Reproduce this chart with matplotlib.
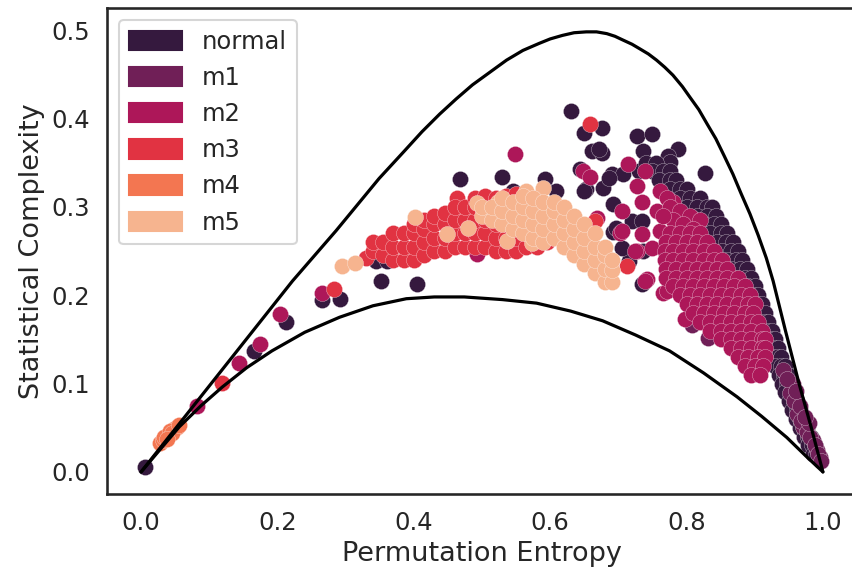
import matplotlib
matplotlib.use("Agg")
import matplotlib.pyplot as plt
from matplotlib.patches import Patch
import seaborn as sns

sns.set_theme(context="talk", style="white")

classes = ["normal", "m1", "m2", "m3", "m4", "m5"]

# bounding curves of the complexity-entropy plane
upper_H = [0, 0.11, 0.222, 0.286, 0.349, 0.386, 0.412, 0.438, 0.462, 0.486, 0.511, 0.536, 0.56,
           0.584, 0.60, 0.618, 0.635, 0.653, 0.668, 0.683, 0.695, 0.706, 0.72, 0.731, 0.744, 0.756,
           0.768, 0.780, 0.794, 0.805, 0.818, 0.83, 0.843, 0.855, 0.868, 0.88, 0.893, 0.905, 0.917,
           0.927, 0.945, 0.965, 0.983, 1.0]
upper_C = [0, 0.107, 0.216, 0.273, 0.332, 0.363, 0.385, 0.405, 0.422, 0.438, 0.452, 0.466, 0.477,
           0.485, 0.490, 0.494, 0.497, 0.498, 0.498, 0.496, 0.493, 0.489, 0.484, 0.479, 0.473, 0.466,
           0.458, 0.449, 0.436, 0.424, 0.410, 0.394, 0.377, 0.358, 0.337, 0.315, 0.292, 0.268, 0.242,
           0.216, 0.16, 0.10, 0.05, 0.0]
lower_H = [0, 0.056, 0.088, 0.119, 0.155, 0.192, 0.24, 0.291, 0.34, 0.389, 0.43, 0.474, 0.53,
           0.580, 0.63, 0.677, 0.725, 0.775, 0.825, 0.874, 0.91, 0.947, 0.975, 1.0]
lower_C = [0, 0.051, 0.075, 0.096, 0.118, 0.137, 0.158, 0.175, 0.188, 0.196, 0.198, 0.198, 0.195,
           0.191, 0.182, 0.171, 0.155, 0.137, 0.112, 0.085, 0.063, 0.039, 0.018, 0.0]

# (permutation entropy, statistical complexity) per class
normal_pts = [
    (0.005, 0.005), (0.166, 0.137), (0.213, 0.170), (0.266, 0.194), (0.291, 0.196), (0.352, 0.216),
    (0.405, 0.213), (0.345, 0.239), (0.360, 0.239), (0.467, 0.331), (0.530, 0.334), (0.592, 0.332),
    (0.545, 0.318), (0.609, 0.318), (0.631, 0.408), (0.649, 0.384), (0.676, 0.389), (0.661, 0.363),
    (0.676, 0.361), (0.643, 0.343), (0.652, 0.320), (0.677, 0.321), (0.692, 0.303), (0.692, 0.272),
    (0.720, 0.284), (0.715, 0.239), (0.734, 0.284), (0.734, 0.213), (0.809, 0.186), (0.706, 0.253),
    (0.736, 0.250), (0.728, 0.380), (0.750, 0.382), (0.736, 0.363), (0.788, 0.365), (0.773, 0.357),
    (0.827, 0.338), (0.672, 0.365), (0.690, 0.337), (0.707, 0.337), (0.730, 0.340), (0.775, 0.351),
    (0.753, 0.346), (0.686, 0.333), (0.696, 0.276), (0.650, 0.318),
    (0.74, 0.35), (0.755, 0.35), (0.75, 0.34), (0.765, 0.34), (0.775, 0.34),
    (0.76, 0.33), (0.775, 0.33), (0.785, 0.33), (0.775, 0.32), (0.79, 0.32), (0.80, 0.32),
    (0.79, 0.31), (0.805, 0.31), (0.82, 0.31), (0.80, 0.30), (0.815, 0.30), (0.83, 0.30), (0.838, 0.30),
    (0.815, 0.29), (0.83, 0.29), (0.843, 0.29), (0.825, 0.28), (0.84, 0.28), (0.85, 0.28),
    (0.835, 0.27), (0.85, 0.27), (0.86, 0.27), (0.845, 0.26), (0.858, 0.26), (0.868, 0.26),
    (0.852, 0.25), (0.865, 0.25), (0.875, 0.25), (0.86, 0.24), (0.872, 0.24), (0.882, 0.24),
    (0.865, 0.23), (0.878, 0.23), (0.888, 0.23), (0.872, 0.22), (0.885, 0.22), (0.894, 0.22),
    (0.878, 0.21), (0.89, 0.21), (0.90, 0.21), (0.885, 0.20), (0.897, 0.20), (0.905, 0.20),
    (0.892, 0.19), (0.903, 0.19), (0.91, 0.19), (0.898, 0.18), (0.908, 0.18), (0.915, 0.18),
    (0.905, 0.17), (0.913, 0.17), (0.92, 0.17), (0.91, 0.16), (0.918, 0.16), (0.925, 0.16),
    (0.915, 0.15), (0.923, 0.15), (0.929, 0.15), (0.92, 0.14), (0.928, 0.14), (0.934, 0.14),
    (0.925, 0.13), (0.933, 0.13), (0.939, 0.13), (0.93, 0.12), (0.938, 0.12), (0.944, 0.12),
    (0.935, 0.11), (0.943, 0.11), (0.949, 0.11), (0.94, 0.10), (0.948, 0.10), (0.953, 0.10),
    (0.945, 0.09), (0.953, 0.09), (0.958, 0.09), (0.95, 0.08), (0.958, 0.08), (0.962, 0.08),
    (0.955, 0.07), (0.962, 0.07), (0.966, 0.07), (0.96, 0.06), (0.967, 0.06), (0.971, 0.06),
    (0.966, 0.05), (0.972, 0.05), (0.976, 0.05), (0.972, 0.04), (0.978, 0.04), (0.982, 0.04),
    (0.978, 0.03), (0.984, 0.03), (0.988, 0.03), (0.985, 0.02), (0.99, 0.02),
]
m1_pts = [
    (0.808, 0.166), (0.831, 0.152), (0.941, 0.115), (0.956, 0.100), (0.952, 0.089), (0.962, 0.066),
    (0.971, 0.051), (0.985, 0.036), (0.996, 0.017), (0.991, 0.025), (0.947, 0.105), (0.958, 0.080),
    (0.966, 0.075), (0.968, 0.058), (0.976, 0.045), (0.981, 0.040), (0.988, 0.030), (0.993, 0.020),
    (0.997, 0.012), (0.979, 0.055), (0.960, 0.092), (0.973, 0.062),
]
m2_pts = [
    (0.082, 0.075), (0.144, 0.123), (0.175, 0.145), (0.203, 0.179), (0.266, 0.203), (0.548, 0.360),
    (0.493, 0.247), (0.668, 0.287), (0.648, 0.340), (0.658, 0.334), (0.714, 0.348), (0.739, 0.340),
    (0.727, 0.323), (0.761, 0.318), (0.780, 0.306), (0.706, 0.295), (0.756, 0.295), (0.734, 0.306),
    (0.702, 0.270), (0.734, 0.269), (0.761, 0.273), (0.808, 0.287), (0.794, 0.276), (0.727, 0.250),
    (0.750, 0.253), (0.742, 0.218), (0.765, 0.202), (0.797, 0.173), (0.771, 0.310), (0.786, 0.287),
    (0.775, 0.300), (0.79, 0.295), (0.805, 0.29), (0.82, 0.285), (0.78, 0.285), (0.795, 0.28),
    (0.81, 0.275), (0.765, 0.29), (0.705, 0.273), (0.724, 0.25), (0.739, 0.216), (0.771, 0.205),
    (0.775, 0.27), (0.79, 0.27), (0.805, 0.27), (0.82, 0.27),
    (0.77, 0.26), (0.785, 0.26), (0.80, 0.26), (0.815, 0.26), (0.83, 0.26),
    (0.768, 0.25), (0.78, 0.25), (0.795, 0.25), (0.81, 0.25), (0.825, 0.25), (0.84, 0.25),
    (0.768, 0.24), (0.78, 0.24), (0.795, 0.24), (0.81, 0.24), (0.825, 0.24), (0.84, 0.24), (0.852, 0.24),
    (0.77, 0.23), (0.785, 0.23), (0.80, 0.23), (0.815, 0.23), (0.83, 0.23), (0.845, 0.23), (0.86, 0.23),
    (0.77, 0.22), (0.785, 0.22), (0.80, 0.22), (0.815, 0.22), (0.83, 0.22), (0.845, 0.22), (0.86, 0.22),
    (0.875, 0.22), (0.78, 0.21), (0.795, 0.21), (0.81, 0.21), (0.825, 0.21), (0.84, 0.21), (0.855, 0.21),
    (0.87, 0.21), (0.885, 0.21), (0.79, 0.20), (0.805, 0.20), (0.82, 0.20), (0.835, 0.20), (0.85, 0.20),
    (0.865, 0.20), (0.88, 0.20), (0.893, 0.20), (0.80, 0.19), (0.815, 0.19), (0.83, 0.19), (0.845, 0.19),
    (0.86, 0.19), (0.875, 0.19), (0.89, 0.19), (0.90, 0.19), (0.81, 0.18), (0.825, 0.18), (0.84, 0.18),
    (0.855, 0.18), (0.87, 0.18), (0.885, 0.18), (0.898, 0.18), (0.82, 0.17), (0.835, 0.17), (0.85, 0.17),
    (0.865, 0.17), (0.88, 0.17), (0.895, 0.17), (0.905, 0.17), (0.835, 0.16), (0.85, 0.16), (0.865, 0.16),
    (0.88, 0.16), (0.895, 0.16), (0.91, 0.16), (0.85, 0.15), (0.865, 0.15), (0.88, 0.15), (0.895, 0.15),
    (0.91, 0.15), (0.915, 0.15), (0.865, 0.14), (0.88, 0.14), (0.895, 0.14), (0.91, 0.14), (0.915, 0.14),
    (0.875, 0.13), (0.89, 0.13), (0.905, 0.13), (0.915, 0.13), (0.885, 0.12), (0.90, 0.12), (0.912, 0.12),
    (0.895, 0.11), (0.908, 0.11),
]
m3_pts = [
    (0.119, 0.101), (0.283, 0.207), (0.658, 0.394), (0.665, 0.284), (0.712, 0.233), (0.463, 0.310),
    (0.330, 0.242),
    (0.34, 0.25), (0.34, 0.26), (0.355, 0.245), (0.355, 0.26), (0.37, 0.24), (0.37, 0.255), (0.37, 0.27),
    (0.385, 0.24), (0.385, 0.255), (0.385, 0.27), (0.40, 0.24), (0.40, 0.255), (0.40, 0.27), (0.40, 0.28),
    (0.415, 0.245), (0.415, 0.26), (0.415, 0.275), (0.415, 0.285), (0.43, 0.25), (0.43, 0.265),
    (0.43, 0.28), (0.43, 0.29), (0.445, 0.25), (0.445, 0.265), (0.445, 0.28), (0.445, 0.293),
    (0.46, 0.255), (0.46, 0.27), (0.46, 0.285), (0.46, 0.30), (0.475, 0.255), (0.475, 0.27),
    (0.475, 0.285), (0.475, 0.30), (0.49, 0.255), (0.49, 0.27), (0.49, 0.285), (0.49, 0.30),
    (0.49, 0.31), (0.505, 0.255), (0.505, 0.27), (0.505, 0.285), (0.505, 0.30), (0.505, 0.312),
    (0.52, 0.25), (0.52, 0.265), (0.52, 0.28), (0.52, 0.295), (0.52, 0.31), (0.535, 0.25),
    (0.535, 0.265), (0.535, 0.28), (0.535, 0.295), (0.535, 0.312), (0.55, 0.25), (0.55, 0.265),
    (0.55, 0.28), (0.55, 0.30), (0.55, 0.315), (0.565, 0.255), (0.565, 0.27), (0.565, 0.285),
    (0.565, 0.30), (0.565, 0.315), (0.58, 0.255), (0.58, 0.27), (0.58, 0.29), (0.58, 0.31),
    (0.595, 0.26), (0.595, 0.275),
]
m4_pts = [
    (0.028, 0.033), (0.032, 0.036), (0.036, 0.039), (0.040, 0.042), (0.044, 0.045), (0.048, 0.048),
    (0.052, 0.051), (0.034, 0.040), (0.042, 0.046), (0.046, 0.044), (0.038, 0.037), (0.055, 0.053),
]
m5_pts = [
    (0.295, 0.233), (0.313, 0.236), (0.401, 0.289), (0.448, 0.269), (0.479, 0.276), (0.493, 0.304),
    (0.523, 0.306), (0.521, 0.287), (0.537, 0.261), (0.573, 0.259), (0.565, 0.318), (0.589, 0.321),
    (0.50, 0.29), (0.50, 0.30), (0.515, 0.285), (0.515, 0.30), (0.53, 0.28), (0.53, 0.295), (0.53, 0.31),
    (0.545, 0.275), (0.545, 0.29), (0.545, 0.305), (0.56, 0.27), (0.56, 0.285), (0.56, 0.30),
    (0.56, 0.312), (0.575, 0.265), (0.575, 0.28), (0.575, 0.295), (0.575, 0.31), (0.59, 0.26),
    (0.59, 0.275), (0.59, 0.29), (0.59, 0.305), (0.605, 0.265), (0.605, 0.28), (0.605, 0.295),
    (0.605, 0.305), (0.62, 0.255), (0.62, 0.27), (0.62, 0.285), (0.62, 0.30), (0.635, 0.245),
    (0.635, 0.26), (0.635, 0.275), (0.635, 0.29), (0.65, 0.235), (0.65, 0.25), (0.65, 0.265),
    (0.65, 0.28), (0.665, 0.225), (0.665, 0.24), (0.665, 0.255), (0.665, 0.27), (0.68, 0.215),
    (0.68, 0.23), (0.68, 0.245), (0.68, 0.255), (0.69, 0.215), (0.69, 0.228), (0.69, 0.24),
]

point_sets = [normal_pts, m1_pts, m2_pts, m3_pts, m4_pts, m5_pts]
colors = sns.color_palette("rocket", len(classes))

fig = plt.figure(figsize=(8.52, 5.77), dpi=100)
ax = fig.add_axes([107 / 852, 83 / 577, 750 / 852, 486 / 577])

for pts, col in zip(point_sets, colors):
    xs = [p[0] for p in pts]
    ys = [p[1] for p in pts]
    ax.scatter(xs, ys, s=135, color=col, edgecolor="white", linewidth=0.2, zorder=2)

ax.plot(upper_H, upper_C, color="black", lw=2.3, zorder=3)
ax.plot(lower_H, lower_C, color="black", lw=2.3, zorder=3)

ax.set_xlim(-0.05, 1.05)
ax.set_ylim(-0.025, 0.525)
ax.set_xticks([0, 0.2, 0.4, 0.6, 0.8, 1.0])
ax.set_yticks([0, 0.1, 0.2, 0.3, 0.4, 0.5])
ax.tick_params(labelsize=17.5)
ax.set_xlabel("Permutation Entropy", fontsize=19.5)
ax.set_ylabel("Statistical Complexity", fontsize=19.5)

handles = [Patch(color=c, label=l) for c, l in zip(colors, classes)]
ax.legend(handles=handles, loc="upper left", fontsize=17.5,
          handlelength=2.2, handleheight=0.85, labelspacing=0.5)

fig.savefig("out.png", dpi=100)
